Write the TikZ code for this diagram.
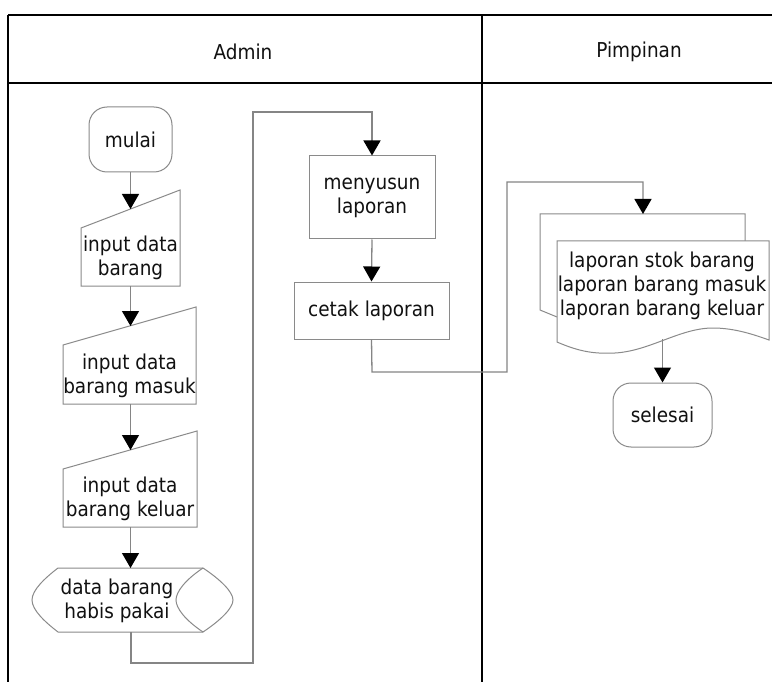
\documentclass[tikz,border=0pt]{standalone}
\usepackage{fontspec}
\setmainfont{DejaVu Sans}[FakeStretch=0.9]
\usetikzlibrary{arrows.meta}
\definecolor{shapegray}{HTML}{8A8A8A}
\definecolor{conngray}{HTML}{858585}
\definecolor{textcol}{HTML}{111111}
\begin{document}
\begin{tikzpicture}[x=1pt,y=-1pt,
  lane/.style={line width=2.2pt, draw=black},
  shapeline/.style={draw=shapegray, line width=1pt},
  conn/.style={draw=conngray, line width=1.3pt},
  arr/.style={conn, -{Triangle[width=17pt,length=15pt,color=black,fill=black]}},
  lbl/.style={font=\fontsize{20.5}{24}\selectfont, text=textcol, align=center, inner sep=0pt},
  term/.style={lbl, shapeline, rounded corners=18pt, minimum width=83pt, minimum height=65pt},
  procbox/.style={lbl, shapeline, rectangle}
]
\useasboundingbox (0,0) rectangle (772,682);
\fill[white] (0,0) rectangle (772,682);

% swimlanes
\draw[lane] (8,15) -- (772,15);
\draw[lane] (8,83) -- (772,83);
\draw[lane] (8,15) -- (8,682);
\draw[lane] (482,15) -- (482,682);
\node[lbl] (admin) at (243,52) {Admin};
\node[lbl] (pimpinan) at (639,52) {Pimpinan};

% mulai
\node[term] (mulai) at (130.5,139.5) {mulai};

% input data barang
\draw[shapeline] (81,228) -- (180,190) -- (180,286) -- (81,286) -- cycle;
\node[lbl] (in1) at (130.5,258) {input data\\barang};
\coordinate (in1T) at (130.5,209);
\coordinate (in1B) at (130.5,286);

% input data barang masuk
\draw[shapeline] (63,345) -- (196,307) -- (196,404) -- (63,404) -- cycle;
\node[lbl] (in2) at (129.5,376) {input data\\barang masuk};
\coordinate (in2T) at (130.5,326);
\coordinate (in2B) at (130.5,404);

% input data barang keluar
\draw[shapeline] (63,469) -- (197,431) -- (197,527) -- (63,527) -- cycle;
\node[lbl] (in3) at (130,499) {input data\\barang keluar};
\coordinate (in3T) at (130.5,450);
\coordinate (in3B) at (130.5,527);

% data barang habis pakai (stored data / display)
\draw[shapeline] (58,568) -- (203,568)
  .. controls (221,580) and (233,592) .. (233,600)
  .. controls (233,608) and (221,620) .. (203,632)
  -- (58,632)
  .. controls (45,622) and (32,610) .. (32,600)
  .. controls (32,590) and (45,578) .. (58,568) -- cycle;
\draw[shapeline] (203,568) .. controls (185,580) and (176,592) .. (176,600)
  .. controls (176,608) and (185,620) .. (203,632);
\node[lbl] (store) at (117,601) {data barang\\habis pakai};
\coordinate (storeT) at (130.5,568);
\coordinate (storeB) at (131,632);

% menyusun laporan / cetak laporan
\node[procbox, minimum width=126pt, minimum height=83pt] (susun) at (372,197.5) {menyusun\\laporan};
\node[procbox, minimum width=155pt, minimum height=57pt] (cetak) at (371.5,310.5) {cetak laporan};

% document (multiple)
\draw[shapeline] (557,317) -- (540,310) -- (540,214) -- (745,214) -- (745,241);
\draw[shapeline, fill=white] (557,241) -- (769,241) -- (769,340)
  .. controls (755,335) and (735,328) .. (713,328)
  .. controls (680,328) and (650,351) .. (615,353)
  .. controls (595,354) and (580,352) .. (557,342) -- cycle;
\node[lbl] (doc) at (662,286) {laporan stok barang\\laporan barang masuk\\laporan barang keluar};
\coordinate (docT) at (643,214);
\coordinate (docB) at (662.5,339);

% selesai
\node[term, minimum width=99pt, minimum height=64pt] (selesai) at (662.5,415) {selesai};

% connectors
\draw[arr] (mulai.south) -- (in1T);
\draw[arr] (in1B) -- (in2T);
\draw[arr] (in2B) -- (in3T);
\draw[arr] (in3B) -- (storeT);
\coordinate (c1) at (131,663);
\coordinate (c2) at (253,663);
\coordinate (c3) at (253,112);
\coordinate (c4) at (372,112);
\draw[arr] (storeB) -- (c1) -- (c2) -- (c3) -- (c4) -- (susun.north);
\draw[arr] (susun.south) -- (cetak.north);
\coordinate (d1) at (372,372);
\coordinate (d2) at (507,372);
\coordinate (d3) at (507,182);
\coordinate (d4) at (643,182);
\draw[arr] (cetak.south) -- (d1) -- (d2) -- (d3) -- (d4) -- (docT);
\draw[arr] (docB) -- (selesai.north);
\end{tikzpicture}
\end{document}
